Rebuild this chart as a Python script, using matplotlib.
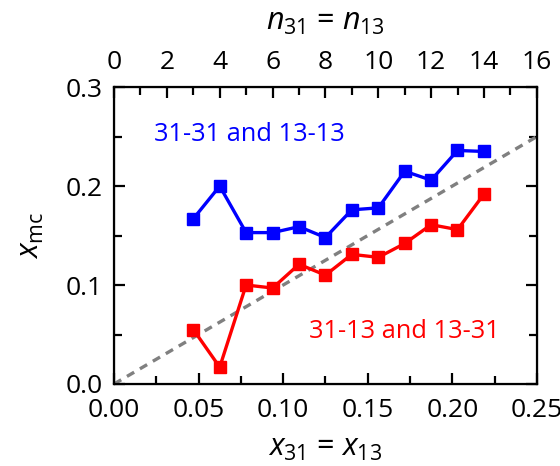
import numpy as np
import matplotlib
matplotlib.use("Agg")
import matplotlib.pyplot as plt
from matplotlib.ticker import MultipleLocator

plt.rcParams['font.family'] = ['Open Sans', 'DejaVu Sans']
plt.rcParams['mathtext.fontset'] = 'custom'
plt.rcParams['mathtext.rm'] = 'Open Sans'
plt.rcParams['mathtext.it'] = 'Open Sans:italic'

# data
n_vals = [3, 4, 5, 6, 7, 8, 9, 10, 11, 12, 13, 14]
x_vals = [0.0469, 0.0625, 0.0781, 0.0938, 0.1094, 0.125,
          0.1406, 0.1563, 0.1719, 0.1875, 0.2031, 0.2188]
same_pairs = [0.167, 0.200, 0.153, 0.153, 0.159, 0.148,
              0.176, 0.178, 0.215, 0.206, 0.236, 0.235]
cross_pairs = [0.055, 0.017, 0.100, 0.097, 0.121, 0.110,
               0.131, 0.128, 0.142, 0.161, 0.156, 0.192]
diag = [0.0, 0.25]

fig = plt.figure(figsize=(5.6, 4.66), dpi=100)
ax = fig.add_axes([0.2036, 0.176, 0.755, 0.637])

ax.plot(diag, diag, '--', color='gray', lw=2.4, dashes=(2.5, 2))
ax.plot(x_vals, same_pairs, '-s', color='blue', lw=2.4, ms=8)
ax.plot(x_vals, cross_pairs, '-s', color='red', lw=2.4, ms=8)

ax.set_xlim(0, 0.25)
ax.set_ylim(0, 0.3)
ax.xaxis.set_major_locator(MultipleLocator(0.05))
ax.xaxis.set_minor_locator(MultipleLocator(0.025))
ax.yaxis.set_major_locator(MultipleLocator(0.1))
ax.yaxis.set_minor_locator(MultipleLocator(0.05))
ax.xaxis.set_major_formatter(lambda v, p: f"{v:.2f}")
ax.yaxis.set_major_formatter(lambda v, p: f"{v:.1f}")
ax.tick_params(which='both', direction='in', width=1.6, labelsize=19,
               right=True, top=False)
ax.tick_params(which='major', length=8)
ax.tick_params(which='minor', length=6)
ax.tick_params(axis='x', pad=10)
ax.tick_params(axis='y', pad=8)
for s in ax.spines.values():
    s.set_linewidth(1.6)

ax.set_xlabel('$x_{31}$ = $x_{13}$', fontsize=22, labelpad=7)
ax.set_ylabel('$x_{\\rm mc}$', fontsize=22, labelpad=14)

top = ax.twiny()
top.set_xlim(0, 16)
top.xaxis.set_major_locator(MultipleLocator(2))
top.xaxis.set_minor_locator(MultipleLocator(1))
top.tick_params(which='both', direction='in', width=1.6, labelsize=19, pad=9)
top.tick_params(which='major', length=8)
top.tick_params(which='minor', length=6)
top.set_xlabel('$n_{31}$ = $n_{13}$', fontsize=22, labelpad=14)

ax.text(0.0234, 0.2457, '31-31 and 13-13', color='blue', fontsize=18.3)
ax.text(0.115, 0.0467, '31-13 and 13-31', color='red', fontsize=18.3)

fig.savefig('out.png', dpi=100)
